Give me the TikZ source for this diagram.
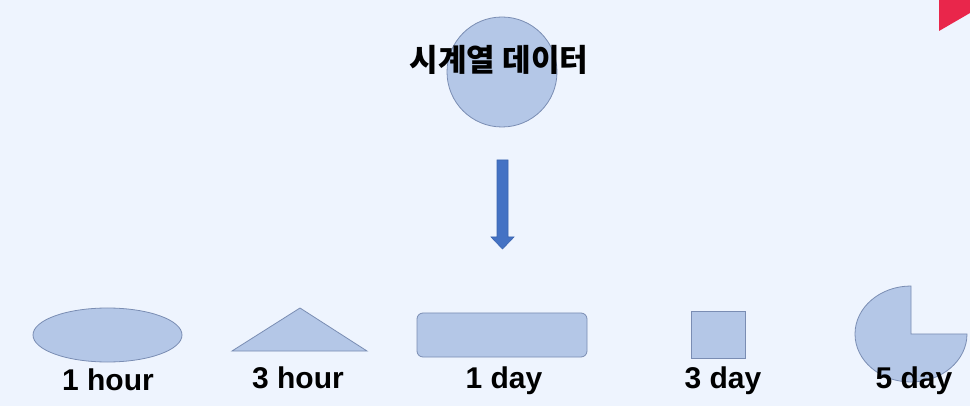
\documentclass[tikz,border=0pt]{standalone}
\usepackage{fontspec}
\setmainfont{Liberation Sans}
\newfontfamily\kor{Noto Sans CJK KR}
\usetikzlibrary{shapes.geometric}
\definecolor{bg}{HTML}{EEF4FE}
\definecolor{shapefill}{HTML}{B4C7E7}
\definecolor{shapeline}{HTML}{7A8DB3}
\definecolor{arrowblue}{HTML}{4472C4}
\definecolor{arrowline}{HTML}{3A64B0}
\definecolor{redmark}{HTML}{E9264B}
\tikzset{
  shp/.style={fill=shapefill, draw=shapeline, line width=0.8pt},
  lbl/.style={anchor=base, font=\fontsize{30}{34}\selectfont\bfseries, inner sep=0pt},
}
\begin{document}
\begin{tikzpicture}[x=1pt,y=-1pt]
\path[fill=bg] (0,0) rectangle (970,406);
\useasboundingbox (0,0) rectangle (970,406);
% red corner mark
\path[fill=redmark] (939,0) -- (970,0) -- (970,13) -- (939,31) -- cycle;
% top circle and title
\draw[shp] (502,72) circle[radius=55];
\node[font=\kor\fontsize{31}{34}\selectfont\bfseries, inner sep=0pt] (title) at (499,60) {시계열 데이터};
% arrow
\path[fill=arrowblue, draw=arrowline, line width=0.6pt]
  (497,160) -- (508,160) -- (508,237) -- (514,237) -- (502.5,249) -- (491,237) -- (497,237) -- cycle;
% shapes
\draw[shp] (107.5,335) ellipse[x radius=74.5, y radius=27];
\draw[shp] (232,351) -- (300,308) -- (367,351) -- cycle;
\draw[shp, rounded corners=6pt] (417,313) rectangle (587,357);
\draw[shp] (691,311) rectangle (745,358);
\draw[shp] (911,334) -- (911,286) arc[start angle=270, end angle=0, x radius=56, y radius=48] -- cycle;
% labels
\node[lbl] (l1) at (108,390) {1 hour};
\node[lbl] (l2) at (298,388) {3 hour};
\node[lbl] (l3) at (504,388) {1 day};
\node[lbl] (l4) at (723,388) {3 day};
\node[lbl] (l5) at (914,388) {5 day};
\end{tikzpicture}
\end{document}
